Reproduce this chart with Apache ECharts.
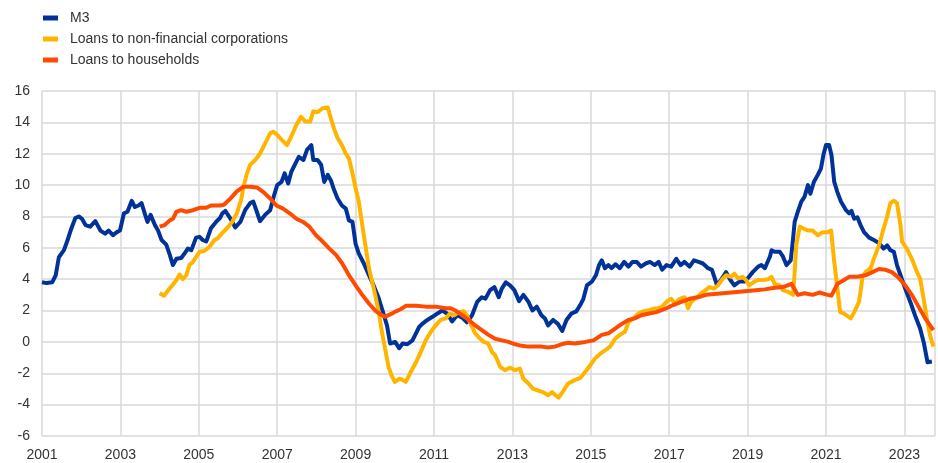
<!DOCTYPE html>
<html>
<head>
<meta charset="utf-8">
<script src="https://cdn.jsdelivr.net/npm/echarts@6/dist/echarts.min.js"></script>
<style>
html,body{margin:0;padding:0;background:#fff;}
#chart{width:938px;height:463px;}
</style>
</head>
<body>
<div id="chart"></div>
<script>
// Series names
const seriesNames = ["M3", "Loans to non-financial corporations", "Loans to households"];

// Y-axis tick values
const yTicks = [-6, -4, -2, 0, 2, 4, 6, 8, 10, 12, 14, 16];
// X-axis tick labels (years)
const xTickYears = [2001, 2003, 2005, 2007, 2009, 2011, 2013, 2015, 2017, 2019, 2021, 2023];

// M3 (annual growth, %) - time as decimal year
const m3Dates = [2001.00,2001.12,2001.26,2001.35,2001.43,2001.56,2001.64,2001.73,2001.85,2001.94,2002.02,2002.11,2002.23,2002.36,2002.49,2002.61,2002.70,2002.81,2002.91,2002.99,2003.09,2003.18,2003.29,2003.37,2003.46,2003.54,2003.62,2003.69,2003.77,2003.88,2003.96,2004.05,2004.17,2004.26,2004.34,2004.43,2004.55,2004.64,2004.72,2004.81,2004.93,2005.02,2005.10,2005.19,2005.31,2005.44,2005.54,2005.60,2005.68,2005.81,2005.93,2006.06,2006.18,2006.31,2006.39,2006.48,2006.56,2006.69,2006.82,2006.92,2007.00,2007.11,2007.19,2007.28,2007.36,2007.47,2007.55,2007.67,2007.76,2007.87,2007.92,2008.03,2008.12,2008.20,2008.29,2008.37,2008.45,2008.54,2008.65,2008.75,2008.83,2008.92,2009.00,2009.08,2009.21,2009.34,2009.46,2009.58,2009.71,2009.80,2009.88,2010.01,2010.11,2010.20,2010.32,2010.45,2010.54,2010.62,2010.70,2010.83,2010.96,2011.08,2011.21,2011.34,2011.46,2011.59,2011.72,2011.84,2011.97,2012.10,2012.22,2012.31,2012.43,2012.54,2012.65,2012.73,2012.83,2012.94,2013.05,2013.17,2013.28,2013.41,2013.51,2013.62,2013.74,2013.83,2013.91,2014.04,2014.16,2014.27,2014.38,2014.50,2014.63,2014.73,2014.81,2014.90,2015.03,2015.13,2015.21,2015.28,2015.36,2015.45,2015.53,2015.63,2015.74,2015.85,2015.96,2016.06,2016.17,2016.28,2016.40,2016.51,2016.63,2016.73,2016.82,2016.93,2017.05,2017.18,2017.29,2017.39,2017.52,2017.63,2017.75,2017.86,2017.99,2018.09,2018.15,2018.22,2018.32,2018.45,2018.56,2018.66,2018.79,2018.92,2019.00,2019.13,2019.27,2019.35,2019.44,2019.57,2019.61,2019.69,2019.82,2019.90,2019.99,2020.10,2020.16,2020.20,2020.28,2020.37,2020.45,2020.54,2020.60,2020.69,2020.79,2020.87,2020.94,2021.00,2021.08,2021.14,2021.21,2021.29,2021.38,2021.51,2021.59,2021.65,2021.72,2021.80,2021.88,2021.97,2022.10,2022.22,2022.35,2022.47,2022.56,2022.64,2022.73,2022.81,2022.90,2023.02,2023.15,2023.27,2023.40,2023.49,2023.59,2023.70];
const m3Values = [3.8,3.75,3.8,4.25,5.4,5.85,6.4,7.1,7.9,8.0,7.85,7.45,7.35,7.7,7.1,6.9,7.1,6.8,7.0,7.1,8.2,8.3,9.0,8.6,8.7,8.85,8.2,7.65,8.1,7.45,7.1,6.5,6.2,5.55,4.9,5.3,5.35,5.65,5.95,5.85,6.65,6.7,6.5,6.4,7.25,7.65,7.9,8.2,8.35,7.85,7.3,7.65,8.4,8.85,8.95,8.3,7.7,8.1,8.4,9.35,10.0,10.2,10.75,10.1,10.85,11.4,11.8,11.6,12.25,12.55,11.6,11.6,11.3,10.2,10.65,10.3,9.7,9.15,8.7,8.5,7.75,7.65,6.25,5.65,5.0,4.25,3.6,2.85,1.8,1.05,-0.1,0.0,-0.4,-0.1,-0.15,0.1,0.55,0.95,1.15,1.4,1.6,1.8,2.0,1.8,1.3,1.7,1.55,1.25,1.7,2.55,2.85,2.75,3.3,3.5,2.85,3.4,3.8,3.6,3.3,2.6,3.0,2.55,2.0,2.25,1.7,1.5,1.05,1.4,1.15,0.7,1.4,1.8,1.95,2.35,2.75,3.6,3.85,4.25,4.9,5.2,4.7,4.9,4.7,4.95,4.7,5.1,4.8,5.1,5.1,4.8,5.0,5.1,4.9,5.1,4.6,4.9,4.8,5.3,4.9,5.1,4.8,5.2,5.1,5.0,4.7,4.6,4.15,3.6,3.95,4.45,3.95,3.6,3.85,3.85,4.05,4.45,4.8,4.9,4.7,5.45,5.85,5.75,5.75,5.45,4.9,5.2,6.6,7.65,8.3,8.95,9.25,10.0,9.45,10.2,10.65,11.05,12.0,12.55,12.55,11.9,10.2,9.55,8.95,8.4,8.2,8.35,7.85,7.95,7.45,7.0,6.65,6.5,6.3,5.95,6.15,5.85,5.75,4.9,4.25,3.4,2.55,1.7,0.85,0.0,-1.3,-1.25];

// Loans to non-financial corporations (annual growth, %)
const nfcDates = [2004.00,2004.11,2004.22,2004.34,2004.43,2004.51,2004.59,2004.68,2004.76,2004.85,2004.93,2005.02,2005.14,2005.27,2005.40,2005.48,2005.60,2005.72,2005.85,2005.97,2006.08,2006.14,2006.23,2006.31,2006.44,2006.56,2006.69,2006.82,2006.90,2007.00,2007.11,2007.25,2007.36,2007.49,2007.61,2007.72,2007.84,2007.92,2008.03,2008.16,2008.29,2008.37,2008.45,2008.54,2008.65,2008.75,2008.83,2008.92,2009.00,2009.08,2009.17,2009.25,2009.34,2009.42,2009.50,2009.59,2009.67,2009.75,2009.84,2009.92,2010.00,2010.11,2010.18,2010.28,2010.41,2010.54,2010.66,2010.79,2010.92,2011.04,2011.17,2011.30,2011.40,2011.51,2011.63,2011.76,2011.84,2011.95,2012.05,2012.18,2012.27,2012.38,2012.48,2012.56,2012.69,2012.81,2012.94,2013.07,2013.19,2013.28,2013.41,2013.53,2013.66,2013.78,2013.91,2014.01,2014.10,2014.18,2014.29,2014.42,2014.54,2014.62,2014.73,2014.86,2014.98,2015.11,2015.24,2015.36,2015.49,2015.62,2015.74,2015.87,2015.97,2016.08,2016.21,2016.34,2016.46,2016.59,2016.72,2016.82,2016.95,2017.05,2017.14,2017.27,2017.39,2017.48,2017.56,2017.66,2017.77,2017.90,2018.03,2018.14,2018.24,2018.37,2018.45,2018.58,2018.66,2018.76,2018.87,2018.96,2019.04,2019.17,2019.27,2019.40,2019.53,2019.61,2019.69,2019.82,2019.90,2020.03,2020.16,2020.20,2020.24,2020.33,2020.41,2020.54,2020.66,2020.79,2020.92,2021.04,2021.13,2021.21,2021.29,2021.36,2021.46,2021.63,2021.72,2021.84,2021.88,2021.93,2022.01,2022.14,2022.22,2022.35,2022.47,2022.56,2022.64,2022.73,2022.81,2022.90,2022.94,2023.06,2023.19,2023.32,2023.40,2023.49,2023.57,2023.65,2023.74];
const nfcValues = [3.1,2.95,3.3,3.65,3.95,4.3,4.0,4.25,4.9,5.1,5.4,5.75,5.8,6.05,6.5,6.6,6.95,7.25,7.65,8.2,9.05,9.9,10.75,11.3,11.6,12.0,12.65,13.3,13.4,13.2,12.9,12.55,13.1,13.85,14.35,14.05,14.05,14.7,14.65,14.9,14.95,14.25,13.6,13.0,12.55,12.0,11.7,10.75,9.8,8.95,7.45,6.15,4.7,3.85,3.0,1.9,0.65,-0.4,-1.6,-2.15,-2.55,-2.35,-2.4,-2.55,-1.9,-1.3,-0.65,0.1,0.65,1.05,1.4,1.5,1.8,1.7,1.9,1.95,1.7,1.05,0.55,0.2,0.0,-0.1,-0.65,-0.85,-1.6,-1.8,-1.65,-1.8,-1.7,-2.35,-2.65,-3.0,-3.1,-3.2,-3.4,-3.2,-3.4,-3.55,-3.15,-2.65,-2.5,-2.4,-2.3,-1.9,-1.5,-1.05,-0.75,-0.55,-0.3,0.2,0.45,0.65,1.3,1.5,1.8,1.95,2.0,2.1,2.15,2.25,2.6,2.75,2.45,2.75,2.85,2.15,2.55,2.75,3.0,3.25,3.5,3.4,3.6,4.05,4.25,4.15,4.35,4.05,4.15,3.95,3.6,3.85,3.95,3.95,4.0,4.15,3.7,3.6,3.3,3.2,3.0,4.45,6.15,7.35,7.25,7.1,7.1,6.8,7.0,7.0,7.1,5.1,3.4,1.9,1.8,1.5,1.9,2.55,3.2,4.15,4.45,4.7,5.3,6.15,7.25,8.0,8.85,9.0,8.85,7.45,6.4,5.95,5.3,4.45,4.05,2.75,1.5,0.45,-0.3];

// Loans to households (annual growth, %)
const hhDates = [2004.00,2004.13,2004.26,2004.34,2004.43,2004.55,2004.68,2004.85,2005.02,2005.19,2005.31,2005.54,2005.64,2005.81,2005.97,2006.14,2006.31,2006.48,2006.65,2006.82,2006.98,2007.15,2007.32,2007.49,2007.66,2007.82,2007.99,2008.16,2008.33,2008.50,2008.66,2008.83,2009.00,2009.17,2009.34,2009.50,2009.67,2009.75,2009.92,2010.03,2010.16,2010.28,2010.54,2010.79,2011.04,2011.30,2011.42,2011.55,2011.72,2011.89,2012.05,2012.22,2012.39,2012.56,2012.73,2012.90,2013.07,2013.24,2013.41,2013.57,2013.74,2013.91,2014.08,2014.25,2014.42,2014.59,2014.86,2015.07,2015.28,2015.45,2015.62,2015.79,2015.96,2016.12,2016.29,2016.46,2016.67,2016.89,2017.10,2017.31,2017.52,2017.73,2017.94,2018.15,2018.37,2018.58,2018.79,2019.00,2019.20,2019.44,2019.69,2019.90,2020.12,2020.28,2020.45,2020.66,2020.83,2021.04,2021.14,2021.29,2021.46,2021.59,2021.80,2022.01,2022.18,2022.35,2022.52,2022.68,2022.85,2023.02,2023.19,2023.36,2023.53,2023.74];
const hhValues = [7.35,7.45,7.75,7.85,8.3,8.4,8.3,8.4,8.55,8.55,8.7,8.7,8.75,9.15,9.6,9.9,9.9,9.85,9.55,9.15,8.7,8.5,8.2,7.85,7.65,7.35,6.8,6.4,5.95,5.55,5.0,4.25,3.6,3.0,2.45,2.0,1.7,1.6,1.8,1.95,2.1,2.3,2.3,2.25,2.25,2.15,2.15,2.0,1.7,1.4,1.05,0.75,0.45,0.2,0.1,0.0,-0.15,-0.25,-0.3,-0.3,-0.3,-0.35,-0.3,-0.15,-0.05,-0.1,0.0,0.1,0.45,0.55,0.85,1.15,1.4,1.5,1.7,1.8,1.9,2.1,2.35,2.55,2.75,2.85,3.0,3.05,3.1,3.15,3.2,3.25,3.3,3.35,3.45,3.5,3.7,3.0,3.1,3.0,3.15,3.0,2.95,3.7,3.95,4.15,4.15,4.25,4.45,4.65,4.6,4.45,4.1,3.6,3.0,2.25,1.5,0.75];

const colors = ["#003299", "#FFB400", "#FF4B00"];

function pairs(xs, ys) { return xs.map((x, i) => [x, ys[i]]); }

const chart = echarts.init(document.getElementById('chart'), null, {renderer: 'canvas'});
const fontFamily = "'Liberation Sans', Arial, sans-serif";
const seriesData = [pairs(m3Dates, m3Values), pairs(nfcDates, nfcValues), pairs(hhDates, hhValues)];

chart.setOption({
  animation: false,
  color: colors,
  legend: {
    orient: 'vertical',
    left: 38,
    top: 6,
    icon: 'rect',
    itemWidth: 15,
    itemHeight: 5,
    itemGap: 7,
    textStyle: {fontFamily: fontFamily, fontSize: 14, color: '#333', padding: [0, 0, 0, 7]},
    data: seriesNames
  },
  grid: {left: 42, right: -2, top: 91, bottom: 27, containLabel: false},
  xAxis: {
    type: 'value',
    min: xTickYears[0],
    max: 2023.78,
    interval: 2,
    axisLine: {show: false},
    axisTick: {show: false},
    axisLabel: {
      fontFamily: fontFamily, fontSize: 14, color: '#333', margin: 12,
      formatter: v => (xTickYears.indexOf(Math.round(v * 100) / 100) >= 0 ? String(v) : '')
    },
    splitLine: {show: true, lineStyle: {color: '#d9d9d9', width: 1.5}}
  },
  yAxis: {
    type: 'value',
    min: yTicks[0],
    max: yTicks[yTicks.length - 1],
    interval: 2,
    axisLine: {show: false},
    axisTick: {show: false},
    axisLabel: {fontFamily: fontFamily, fontSize: 14, color: '#333', margin: 12},
    splitLine: {show: true, lineStyle: {color: '#d9d9d9', width: 1.5}}
  },
  series: seriesNames.map((name, i) => ({
    name: name,
    type: 'line',
    data: seriesData[i],
    showSymbol: false,
    symbol: 'none',
    lineStyle: {width: 4, color: colors[i], join: 'round'},
    itemStyle: {color: colors[i]},
    z: 2 + i
  }))
});
</script>
</body>
</html>
